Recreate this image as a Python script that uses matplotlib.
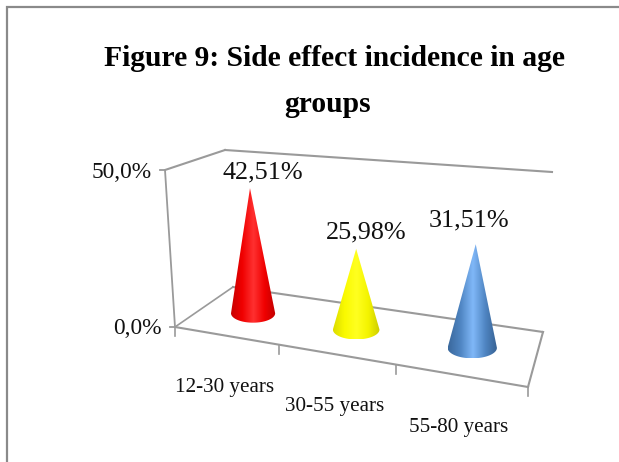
import numpy as np
import matplotlib
matplotlib.use("Agg")
import matplotlib.pyplot as plt
from matplotlib.colors import LinearSegmentedColormap
from matplotlib.patches import PathPatch
from matplotlib.path import Path

title_lines = ["Figure 9: Side effect incidence in age", "groups"]
categories = ["12-30 years", "30-55 years", "55-80 years"]
values = [42.51, 25.98, 31.51]
value_labels = ["42,51%", "25,98%", "31,51%"]
y_ticks = [0, 50]
y_tick_labels = ["0,0%", "50,0%"]

ramps = [
    ["#c80000", "#f00000", "#ff3030", "#f00000", "#c00000"],
    ["#dcdc00", "#fafa00", "#ffff20", "#f4f400", "#cccc00"],
    ["#3a689c", "#4f85c2", "#80b8f8", "#4f85c2", "#365f90"],
]

GRAY = "#9a9a9a"
FL, FR, BL, BR = map(np.array, [(175, 327), (528, 387), (233, 287), (543, 332)])
WALL_TOP_FRONT, WALL_TOP_BACK, WALL_TOP_RIGHT = map(np.array, [(165, 170), (225, 150), (552, 172)])
K = 1.195  # horizontal perspective foreshortening
label_offset = [(13, -16), (10, -16), (-7, -24)]


def across(t):
    return t / (t + K * (1 - t))


def floor(t, depth):
    u = across(t)
    front = FL + (FR - FL) * u
    back = BL + (BR - BL) * u
    return front + (back - front) * depth


def scale_at(y):
    return 2.94 + (y - 313) * 0.01


fig = plt.figure(figsize=(6.19, 4.62), dpi=100, facecolor="white")
ax = fig.add_axes([0, 0, 1, 1])
ax.axis("off")

serif = "Liberation Serif"

# outer frame
ax.plot([7, 7, 619], [462, 7, 7], color="#8a8a8a", lw=1.6, solid_joinstyle="miter")

# floor and walls
ax.plot(*zip(FL, BL), color=GRAY, lw=1.2)
ax.plot(*zip(BL, BR), color=GRAY, lw=1.5)
ax.plot(*zip(BR, FR), color=GRAY, lw=1.5)
ax.plot(*zip(FL, FR), color=GRAY, lw=1.5)
ax.plot(*zip(FL, WALL_TOP_FRONT), color=GRAY, lw=1.3)
ax.plot(*zip(WALL_TOP_FRONT, WALL_TOP_BACK), color=GRAY, lw=1.5)
ax.plot(*zip(WALL_TOP_BACK, WALL_TOP_RIGHT), color=GRAY, lw=1.5)

# value axis
for tick, lab in zip(y_ticks, y_tick_labels):
    f = tick / y_ticks[-1]
    p = FL + (WALL_TOP_FRONT - FL) * f
    ax.plot([p[0] - 5, p[0]], [p[1], p[1]], color=GRAY, lw=1.3)
    ax.text(p[0] - 13, p[1] + 2, lab, family=serif, fontsize=16.8, color="#111111",
            ha="right", va="center")

# category ticks
for i in range(len(categories) + 1):
    p = floor(i / len(categories), 0)
    ax.plot([p[0], p[0]], [p[1], p[1] + 9], color=GRAY, lw=1.2)

# cones and labels
for i, (cat, val, lab, ramp, off) in enumerate(zip(categories, values, value_labels, ramps, label_offset)):
    t = (i + 0.5) / len(categories)
    base = floor(t, 0.53)
    s = scale_at(base[1])
    a, b = 7.5 * s, 3.2 * s
    apex = np.array([base[0] + (base[0] - floor(0.5, 0.53)[0]) * 0.03, base[1] - val * s])

    th = np.linspace(np.pi, 0, 60)  # lower half of the base ellipse (y grows downward)
    xs = base[0] + a * np.cos(th)
    ys = base[1] + b * np.sin(th)
    verts = [tuple(apex)] + list(zip(xs, ys)) + [tuple(apex)]
    codes = [Path.MOVETO] + [Path.LINETO] * len(xs) + [Path.CLOSEPOLY]
    path = Path(verts, codes)

    cmap = LinearSegmentedColormap.from_list(f"cone{i}", ramp)
    grad = np.linspace(0, 1, 256).reshape(1, -1)
    im = ax.imshow(grad, cmap=cmap, aspect="auto", interpolation="bilinear",
                   extent=(base[0] - a, base[0] + a, base[1] + b, apex[1]), zorder=3)
    clip = PathPatch(path, transform=ax.transData, fc="none", ec="none")
    ax.add_patch(clip)
    im.set_clip_path(clip)

    ax.text(apex[0] + off[0], apex[1] + off[1], lab, family=serif, fontsize=18.8,
            color="#111111", ha="center", va="center", zorder=4)

    front = floor(t, 0)
    ax.text(front[0] - 1, front[1] + 52, cat, family=serif, fontsize=15.2,
            color="#111111", ha="center", va="center")

# title
ax.text(335, 58, title_lines[0], family=serif, weight="bold", fontsize=21.3,
        color="black", ha="center", va="center")
ax.text(328, 104, title_lines[1], family=serif, weight="bold", fontsize=21.3,
        color="black", ha="center", va="center")

ax.set_xlim(0, 619)
ax.set_ylim(462, 0)
fig.savefig("out.png", dpi=100, facecolor="white")
